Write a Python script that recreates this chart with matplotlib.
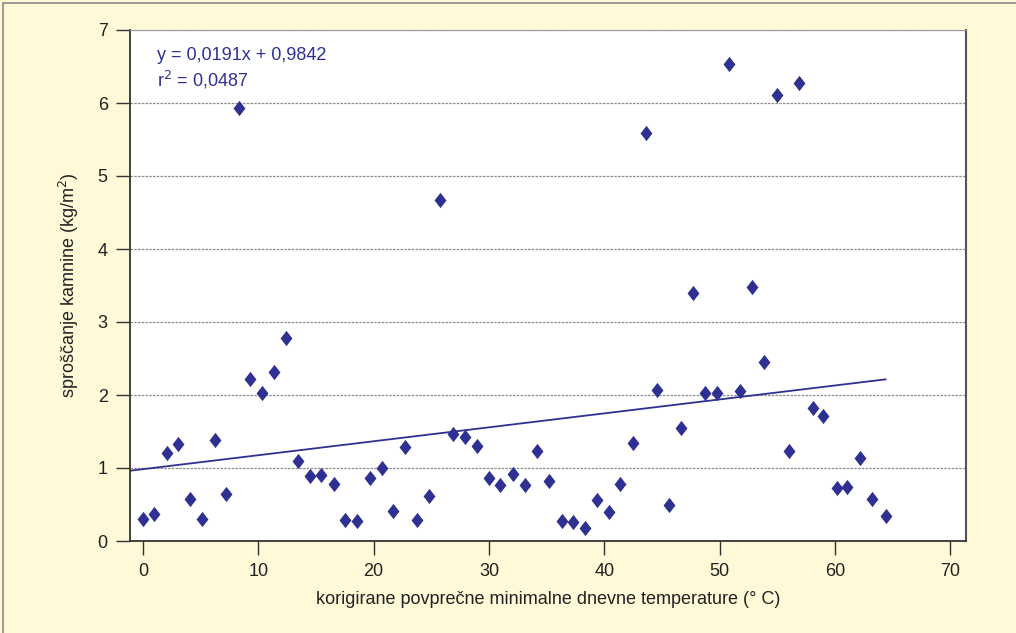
import matplotlib
matplotlib.use("Agg")
import matplotlib.pyplot as plt
from matplotlib.path import Path
from matplotlib.patches import Rectangle
import numpy as np

x_vals = [0.0, 0.95, 2.08, 3.0, 4.1, 5.1, 6.2, 7.2, 8.3, 9.3, 10.3, 11.4, 12.4,
          13.4, 14.5, 15.4, 16.6, 17.5, 18.6, 19.7, 20.7, 21.7, 22.7, 23.8, 24.8,
          25.8, 26.9, 27.9, 29.0, 30.0, 31.0, 32.1, 33.1, 34.2, 35.2, 36.3, 37.3,
          38.3, 39.4, 40.4, 41.4, 42.5, 43.6, 44.6, 45.6, 46.7, 47.7, 48.7, 49.8,
          50.8, 51.8, 52.8, 53.9, 55.0, 56.0, 56.9, 58.1, 59.0, 60.2, 61.1, 62.2,
          63.2, 64.4]
y_vals = [0.30, 0.37, 1.21, 1.33, 0.58, 0.30, 1.38, 0.64, 5.93, 2.22, 2.03, 2.32, 2.78,
          1.10, 0.89, 0.90, 0.78, 0.29, 0.27, 0.86, 1.00, 0.41, 1.29, 0.29, 0.62,
          4.67, 1.47, 1.42, 1.30, 0.86, 0.77, 0.92, 0.77, 1.23, 0.82, 0.27, 0.26,
          0.18, 0.56, 0.40, 0.78, 1.34, 5.59, 2.07, 0.49, 1.55, 3.40, 2.03, 2.03,
          6.53, 2.05, 3.48, 2.45, 6.11, 1.23, 6.27, 1.82, 1.71, 0.73, 0.74, 1.14,
          0.58, 0.34]
slope = 0.0191
intercept = 0.9842
x_ticks = [0, 10, 20, 30, 40, 50, 60, 70]
y_ticks = [0, 1, 2, 3, 4, 5, 6, 7]

navy = "#2E3192"
bg = "#FFF9D8"
font = ["Liberation Sans Narrow", "Liberation Sans", "DejaVu Sans"]
plt.rcParams["font.family"] = font

fig = plt.figure(figsize=(10.16, 6.33), dpi=100, facecolor=bg)
fig.patches.append(Rectangle((3/1016, -0.1), 1.2, 1 - 3/633 + 0.1,
                             transform=fig.transFigure, fill=False,
                             edgecolor="#8a8a8a", linewidth=1.2))
ax = fig.add_axes([130/1016, 1 - 541/633, (966-130)/1016, (541-30)/633])
ax.set_facecolor("white")

ax.set_xlim(-1.13, 71.38)
ax.set_ylim(0, 7)
ax.set_xticks(x_ticks)
ax.set_yticks(y_ticks)
ax.tick_params(axis="both", direction="out", length=10, width=1, colors="#333333",
               labelsize=13, labelcolor="#222222", pad=6)
for s in ["left", "bottom"]:
    ax.spines[s].set_color("#333333")
    ax.spines[s].set_linewidth(1.3)
ax.spines["right"].set_color("#555555")
ax.spines["right"].set_linewidth(1.5)
ax.spines["top"].set_color("#999999")
ax.spines["top"].set_linewidth(0.8)

ax.yaxis.grid(True, color="#8c8c8c", linestyle=(0, (2, 1)), linewidth=0.9)
ax.set_axisbelow(True)

diamond = Path([(0, 1), (0.78, 0), (0, -1), (-0.78, 0), (0, 1)],
               [Path.MOVETO, Path.LINETO, Path.LINETO, Path.LINETO, Path.CLOSEPOLY])
ax.plot(x_vals, y_vals, linestyle="none", marker=diamond, markersize=11,
        color=navy, markeredgewidth=0, zorder=3)

xl = np.array([-1.13, max(x_vals)])
ax.plot(xl, slope * xl + intercept, color=navy, linewidth=1.3, zorder=2)

ax.text(157/1016, 1 - 56/633, "y = 0,0191x + 0,9842", transform=fig.transFigure,
        color=navy, fontsize=13, va="center", ha="left",
        family=["Liberation Sans", "DejaVu Sans"])
ax.text(157/1016, 1 - 80/633, "r$^{2}$ = 0,0487", transform=fig.transFigure,
        color=navy, fontsize=13, va="center", ha="left",
        family=["Liberation Sans", "DejaVu Sans"])

ax.set_xlabel("korigirane povprečne minimalne dnevne temperature (° C)",
              fontsize=13, color="#222222", labelpad=8)
ax.set_ylabel("sproščanje kamnine (kg/m$^{2}$)", fontsize=13, color="#222222",
              labelpad=12)

fig.savefig("out.png", dpi=100, facecolor=bg)
